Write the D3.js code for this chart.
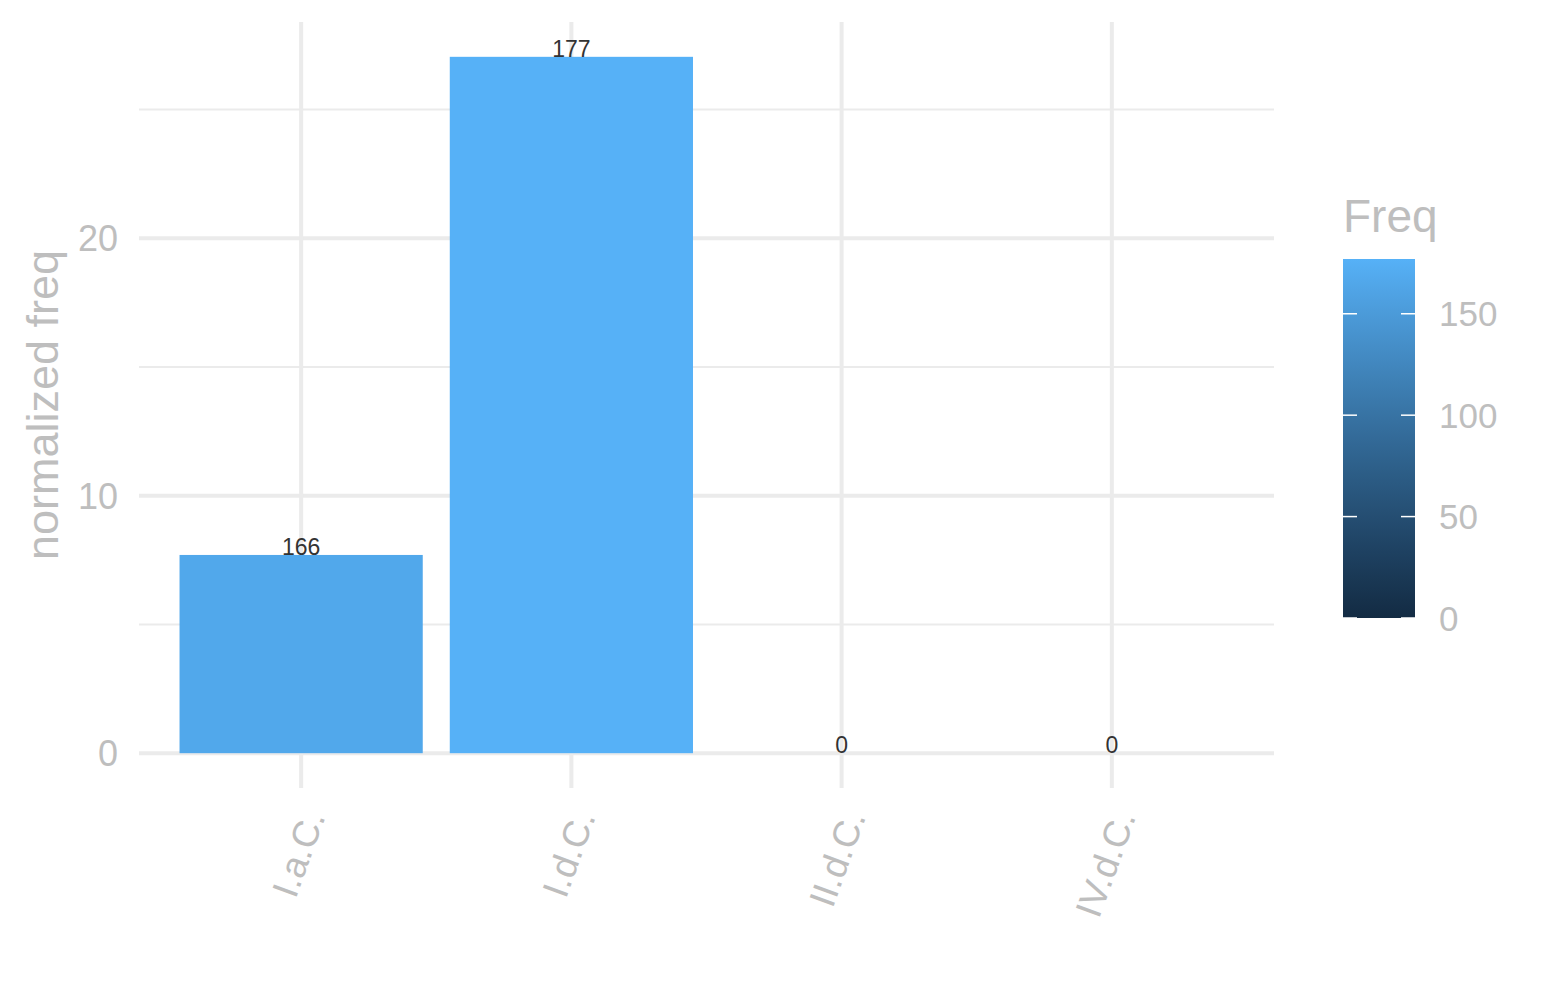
<!DOCTYPE html>
<html>
<head>
<meta charset="utf-8">
<script src="https://d3js.org/d3.v7.min.js"></script>
<style>
  body { margin: 0; background: #fff; }
  svg text { font-family: "Liberation Sans", Arial, sans-serif; }
</style>
</head>
<body>
<div id="graph"></div>
<script>
// data
var categories = ["I.a.C.", "I.d.C.", "II.d.C.", "IV.d.C."];
var normFreq = [7.7, 27.05, 0, 0];
var freq = [166, 177, 0, 0];
var yTicks = [0, 10, 20];
var yMinor = [5, 15, 25];
var legendTicks = [0, 50, 100, 150];

var W = 1545, H = 1000;
var panel = {left: 139, right: 1274, top: 22, bottom: 788};
var grey = "#BEBEBE", grid = "#EBEBEB";

var svg = d3.select("#graph").append("svg")
    .attr("width", W).attr("height", H);

var maxV = d3.max(normFreq);
var pad = maxV * 0.05;
var y = d3.scaleLinear()
    .domain([-pad, maxV + pad])
    .range([panel.bottom, panel.top]);

var step = (panel.right - panel.left) / (categories.length - 1 + 1.2);
var x = d3.scalePoint()
    .domain(categories)
    .range([panel.left + 0.6 * step, panel.right - 0.6 * step]);
var bw = step * 0.9;

var color = d3.scaleLinear()
    .domain([0, d3.max(freq)])
    .range(["#132B43", "#56B1F7"])
    .interpolate(d3.interpolateLab);

// grid
svg.append("g").selectAll("line.minor")
    .data(yMinor).enter().append("line")
    .attr("x1", panel.left).attr("x2", panel.right)
    .attr("y1", d => y(d)).attr("y2", d => y(d))
    .attr("stroke", grid).attr("stroke-width", 2);
svg.append("g").selectAll("line.major")
    .data(yTicks).enter().append("line")
    .attr("x1", panel.left).attr("x2", panel.right)
    .attr("y1", d => y(d)).attr("y2", d => y(d))
    .attr("stroke", grid).attr("stroke-width", 4);
svg.append("g").selectAll("line.vmajor")
    .data(categories).enter().append("line")
    .attr("x1", d => x(d)).attr("x2", d => x(d))
    .attr("y1", panel.top).attr("y2", panel.bottom)
    .attr("stroke", grid).attr("stroke-width", 4);

// bars
svg.append("g").selectAll("rect")
    .data(categories).enter().append("rect")
    .attr("x", d => x(d) - bw / 2)
    .attr("width", bw)
    .attr("y", (d, i) => y(normFreq[i]))
    .attr("height", (d, i) => y(0) - y(normFreq[i]))
    .attr("fill", (d, i) => color(freq[i]));

// bar labels
svg.append("g").selectAll("text")
    .data(categories).enter().append("text")
    .attr("x", d => x(d))
    .attr("y", (d, i) => y(normFreq[i]))
    .attr("text-anchor", "middle")
    .attr("font-size", 23)
    .attr("fill", "#333333")
    .text((d, i) => freq[i]);

// y axis labels
svg.append("g").selectAll("text")
    .data(yTicks).enter().append("text")
    .attr("x", 118)
    .attr("y", d => y(d))
    .attr("dy", "0.36em")
    .attr("text-anchor", "end")
    .attr("font-size", 36)
    .attr("fill", grey)
    .text(d => d);

svg.append("text")
    .attr("transform", "translate(58," + ((panel.top + panel.bottom) / 2) + ") rotate(-90)")
    .attr("text-anchor", "middle")
    .attr("font-size", 45)
    .attr("fill", grey)
    .text("normalized freq");

// x axis labels
svg.append("g").selectAll("text")
    .data(categories).enter().append("text")
    .attr("transform", d => "translate(" + (x(d) + 12) + ",812) rotate(-70)")
    .attr("text-anchor", "end")
    .attr("dy", "0.36em")
    .attr("font-size", 37)
    .attr("fill", grey)
    .text(d => d);

// legend colorbar
var lg = {x: 1343, w: 72, top: 259, bottom: 618};
var ly = d3.scaleLinear().domain([0, d3.max(freq)]).range([lg.bottom, lg.top]);
var grad = svg.append("defs").append("linearGradient")
    .attr("id", "fgrad").attr("x1", 0).attr("y1", 1).attr("x2", 0).attr("y2", 0);
d3.range(0, 1.0001, 0.1).forEach(function(t) {
  grad.append("stop").attr("offset", t).attr("stop-color", color(t * d3.max(freq)));
});
svg.append("rect")
    .attr("x", lg.x).attr("y", lg.top)
    .attr("width", lg.w).attr("height", lg.bottom - lg.top)
    .attr("fill", "url(#fgrad)");
var lt = svg.append("g").selectAll("g").data(legendTicks).enter().append("g");
lt.append("line")
    .attr("x1", lg.x).attr("x2", lg.x + 14)
    .attr("y1", d => ly(d)).attr("y2", d => ly(d))
    .attr("stroke", "#fff").attr("stroke-width", 1.5);
lt.append("line")
    .attr("x1", lg.x + lg.w - 14).attr("x2", lg.x + lg.w)
    .attr("y1", d => ly(d)).attr("y2", d => ly(d))
    .attr("stroke", "#fff").attr("stroke-width", 1.5);
lt.append("text")
    .attr("x", 1439)
    .attr("y", d => ly(d))
    .attr("dy", "0.36em")
    .attr("font-size", 35)
    .attr("fill", grey)
    .text(d => d);
svg.append("text")
    .attr("x", 1343).attr("y", 232)
    .attr("font-size", 46)
    .attr("fill", grey)
    .text("Freq");
</script>
</body>
</html>
